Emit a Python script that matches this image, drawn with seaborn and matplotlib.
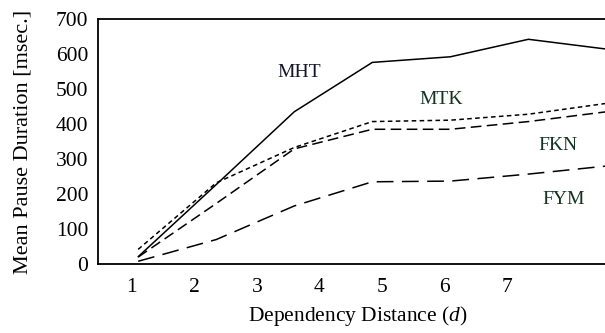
import matplotlib
matplotlib.use("Agg")
import matplotlib.pyplot as plt
import seaborn as sns
import pandas as pd

distance = [1.1, 2.35, 3.6, 4.85, 6.1, 7.35, 8.6]
mht = [21, 227, 435, 576, 592, 642, 614]
mtk = [42, 232, 333, 407, 411, 428, 459]
fkn = [20, 173, 329, 385, 385, 407, 435]
fym = [8, 70, 166, 235, 237, 257, 280]
series_names = ["MHT", "MTK", "FKN", "FYM"]
x_ticks = [1, 2, 3, 4, 5, 6, 7]
y_ticks = [0, 100, 200, 300, 400, 500, 600, 700]

rows = []
for name, vals in zip(series_names, [mht, mtk, fkn, fym]):
    for x, y in zip(distance, vals):
        rows.append({"d": x, "ms": y, "speaker": name})
df = pd.DataFrame(rows)

sns.set_theme(style="white")
plt.rcParams["font.family"] = ["Liberation Serif", "DejaVu Serif"]
plt.rcParams["mathtext.fontset"] = "custom"
plt.rcParams["mathtext.it"] = "Liberation Serif:italic"
plt.rcParams["mathtext.rm"] = "Liberation Serif"

fig = plt.figure(figsize=(6.05, 3.33), dpi=100)
# axes extends slightly past the right edge of the figure (clipped as in the original)
ax = fig.add_axes([0.162, 0.207, 0.859, 0.736])

sns.lineplot(data=df, x="d", y="ms", hue="speaker", style="speaker",
             palette={n: "black" for n in series_names},
             dashes={"MHT": "", "MTK": (3, 2.2), "FKN": (7, 3.5), "FYM": (11, 5.5)},
             linewidth=1.1, legend=False, ax=ax)

ax.set_xlim(0.457, 8.78)
ax.set_ylim(0, 700)
ax.set_xticks(x_ticks)
ax.set_yticks(y_ticks)
ax.tick_params(axis="x", direction="in", length=6, width=1.1, labelsize=15.5, pad=10, colors="black")
ax.tick_params(axis="y", direction="in", length=9, width=1.1, labelsize=15.5, pad=7, colors="black")
for s in ["left", "bottom", "top"]:
    ax.spines[s].set_visible(True)
    ax.spines[s].set_color("black")
    ax.spines[s].set_linewidth(1.3)
ax.spines["right"].set_visible(False)

ax.set_xlabel("Dependency Distance ($\\mathit{d}$)", fontsize=15.5, labelpad=5, color="black")
ax.set_ylabel("Mean Pause Duration [msec.]", fontsize=16, labelpad=17, color="black")

label_pos = {"MHT": (3.68, 548, "#141432"), "MTK": (5.96, 469, "#103520"),
             "FKN": (7.82, 340, "#103520"), "FYM": (7.92, 184, "#103520")}
for name, (x, y, c) in label_pos.items():
    ax.text(x, y, name, fontsize=14, color=c, ha="center", va="center")

fig.savefig("out.png", dpi=100)
